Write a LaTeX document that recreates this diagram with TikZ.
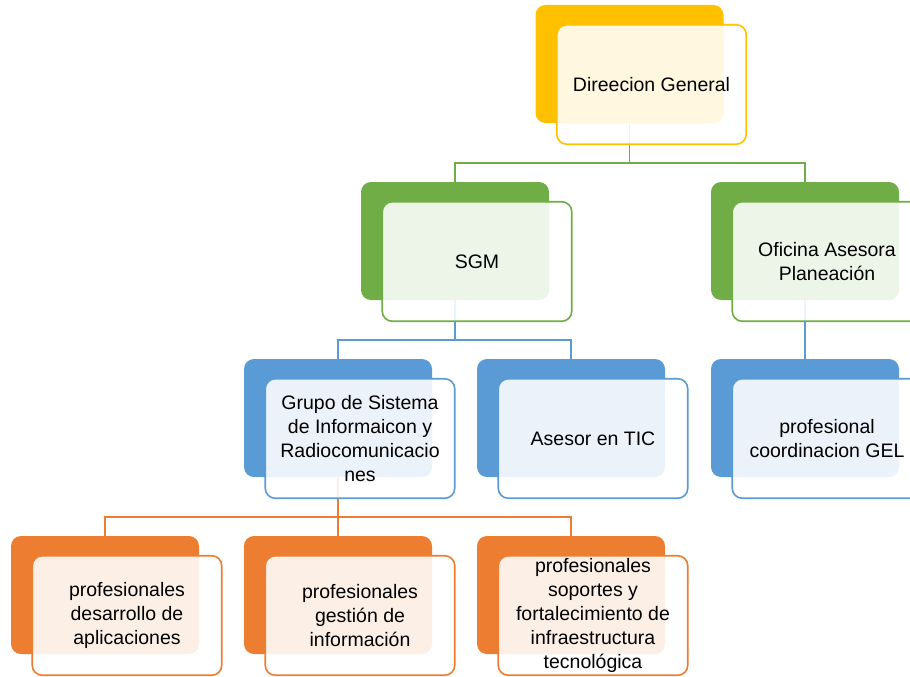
\documentclass[tikz,border=0pt]{standalone}
\usepackage{fontspec}
\setmainfont{Liberation Sans}
\usetikzlibrary{positioning}
\definecolor{oyellow}{HTML}{FFC000}
\definecolor{ogreen}{HTML}{70AD47}
\definecolor{oblue}{HTML}{5B9BD5}
\definecolor{oorange}{HTML}{ED7D31}
\tikzset{
    backbox/.style = {rectangle, rounded corners=10pt, inner sep=0pt, minimum width=188pt, minimum height=118pt},
    frontbox/.style = {rectangle, rounded corners=10pt, line width=1.6pt, fill=white, fill opacity=0.88, text opacity=1, text=black, align=center, inner sep=0pt, minimum width=189.5pt, minimum height=119.5pt, font=\fontsize{19.5}{24}\selectfont, xshift=22pt, yshift=-20.5pt},
    backy/.style = {backbox, fill=oyellow},
    backg/.style = {backbox, fill=ogreen},
    backb/.style = {backbox, fill=oblue},
    backo/.style = {backbox, fill=oorange},
    fronty/.style = {frontbox, draw=oyellow},
    frontg/.style = {frontbox, draw=ogreen},
    frontb/.style = {frontbox, draw=oblue},
    fronto/.style = {frontbox, draw=oorange},
    edgeg/.style = {line width=1.5pt, ogreen},
    edgeb/.style = {line width=1.5pt, oblue},
    edgeo/.style = {line width=1.5pt, oorange}
}
\begin{document}
\begin{tikzpicture}[x=1pt,y=-1pt]
\useasboundingbox (0,0) rectangle (910,677);
\clip (0,0) rectangle (910,677);
%
\node[backy] at (629.5,64) (dg) {};
\node[backg] at (455,241) (sgm) {};
\node[backg] at (805,241) (ofi) {};
\node[backb] at (338,418) (grupo) {};
\node[backb] at (571,418) (tic) {};
\node[backb] at (805,418) (coord) {};
\node[backo] at (105,595) (dev) {};
\node[backo] at (338,595) (gest) {};
\node[backo] at (571,595) (sop) {};
%
\draw[edgeg] (dg.south) -- ++(0,40) -| (sgm.north);
\draw[edgeg] (dg.south) -- ++(0,40) -| (ofi.north);
\draw[edgeb] (sgm.south) -- ++(0,40) -| (grupo.north);
\draw[edgeb] (sgm.south) -- ++(0,40) -| (tic.north);
\draw[edgeb] (ofi.south) -- ++(0,40) -| (coord.north);
\draw[edgeo] (grupo.south) -- ++(0,40) -| (dev.north);
\draw[edgeo] (grupo.south) -- ++(0,40) -| (gest.north);
\draw[edgeo] (grupo.south) -- ++(0,40) -| (sop.north);
%
\node[fronty] at (dg) (dgf) {Direecion General};
\node[frontg] at (sgm) (sgmf) {SGM};
\node[frontg] at (ofi) (ofif) {Oficina Asesora\\Planeación};
\node[frontb] at (grupo) (grupof) {Grupo de Sistema\\de Informaicon y\\Radiocomunicacio\\nes};
\node[frontb] at (tic) (ticf) {Asesor en TIC};
\node[frontb] at (coord) (coordf) {profesional\\coordinacion GEL};
\node[fronto] at (dev) (devf) {profesionales\\desarrollo de\\aplicaciones};
\node[fronto] at (gest) (gestf) {profesionales\\gestión de\\información};
\node[fronto] at (sop) (sopf) {profesionales\\soportes y\\fortalecimiento de\\infraestructura\\tecnológica};

\end{tikzpicture}
\end{document}
